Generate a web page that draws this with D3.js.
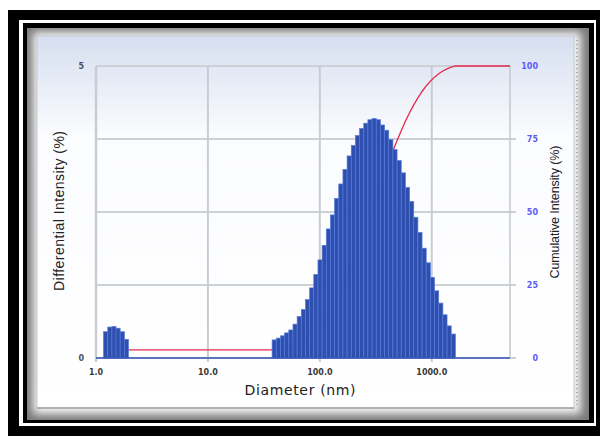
<!DOCTYPE html>
<html>
<head>
<meta charset="utf-8">
<script src="https://cdn.jsdelivr.net/npm/d3@7"></script>
<style>
    body { margin: 0; background: #fff; }
    svg { display: block; }
</style>
</head>
<body>
<div id="chart-area"></div>
<script>
// bin centres (nm), first small peak then main peak
let diameters = [
    1.22, 1.33, 1.45, 1.57, 1.72, 1.87,
    39.1, 42.6, 46.5, 50.6, 55.1, 60.1, 65.4, 71.3, 77.7, 84.6,
    92.2, 100.4, 109.4, 119.2, 129.8, 141.4, 154.1, 167.9, 182.9, 199.3,
    217.1, 236.5, 257.6, 280.6, 305.7, 333.1, 362.9, 395.4, 430.7, 469.2,
    511.2, 556.9, 606.7, 661.0, 720.1, 784.5, 854.6, 931.1, 1014, 1105,
    1204, 1312, 1429, 1557
];

// differential intensity (%)
let intensity = [
    0.45, 0.53, 0.54, 0.51, 0.45, 0.32,
    0.31, 0.34, 0.38, 0.43, 0.48, 0.58, 0.71, 0.83, 1.00, 1.20,
    1.43, 1.68, 1.93, 2.21, 2.45, 2.73, 2.98, 3.23, 3.46, 3.64,
    3.81, 3.93, 4.02, 4.08, 4.10, 4.08, 3.99, 3.90, 3.74, 3.57,
    3.38, 3.17, 2.92, 2.68, 2.41, 2.15, 1.88, 1.63, 1.38, 1.15,
    0.94, 0.74, 0.55, 0.41
];

let xTicks = [1, 10, 100, 1000];
let xMax = 5000;
let leftTicks = [0, 5];
let rightTicks = [0, 25, 50, 75, 100];

function SizeDistVis(parent) {
    let vis = this;
    vis.parent = d3.select(parent);
    vis.initVis();
}

SizeDistVis.prototype.initVis = function() {
    let vis = this;

    vis.margin = {"top": 66, "left": 96, "right": 90, "bottom": 78};
    vis.width = 600 - vis.margin.left - vis.margin.right;
    vis.height = 436 - vis.margin.top - vis.margin.bottom;

    vis.root = vis.parent.append("svg")
        .attr("width", 600)
        .attr("height", 436);

    let defs = vis.root.append("defs");
    let grad = defs.append("linearGradient")
        .attr("id", "panel-grad")
        .attr("x1", 0).attr("y1", 0).attr("x2", 0).attr("y2", 1);
    grad.append("stop").attr("offset", 0).attr("stop-color", "#d6dff0");
    grad.append("stop").attr("offset", 0.27).attr("stop-color", "#fbfcfe");
    grad.append("stop").attr("offset", 1).attr("stop-color", "#ffffff");
    defs.append("filter")
        .attr("id", "soft")
        .attr("x", -0.1).attr("y", -0.1).attr("width", 1.2).attr("height", 1.2)
        .append("feGaussianBlur")
        .attr("stdDeviation", 4);
    defs.append("clipPath")
        .attr("id", "bevel-clip")
        .append("rect")
        .attr("x", 27).attr("y", 28).attr("width", 562).attr("height", 392);

    // frame around the screenshot
    vis.root.append("rect")
        .attr("x", 8).attr("y", 10).attr("width", 600).attr("height", 440)
        .style("fill", "#000");
    vis.root.append("rect")
        .attr("x", 19).attr("y", 20).attr("width", 577).attr("height", 406)
        .style("fill", "#fff");
    vis.root.append("rect")
        .attr("x", 23).attr("y", 23).attr("width", 571).attr("height", 400)
        .style("fill", "#000");

    let bevel = vis.root.append("g").attr("clip-path", "url(#bevel-clip)");
    bevel.append("rect")
        .attr("x", 27).attr("y", 28).attr("width", 562).attr("height", 392)
        .style("fill", "#7a7a7a");
    bevel.append("rect")
        .attr("x", 33).attr("y", 32).attr("width", 548).attr("height", 382)
        .style("fill", "#f6f6f6")
        .attr("filter", "url(#soft)");

    vis.root.append("rect")
        .attr("x", 37).attr("y", 36).attr("width", 537).attr("height", 372)
        .style("fill", "url(#panel-grad)")
        .style("stroke", "#c4c8ce")
        .style("stroke-width", 1);

    // screenshot rulers on the right and bottom
    vis.root.append("line")
        .attr("x1", 577).attr("x2", 577).attr("y1", 40).attr("y2", 405)
        .style("stroke", "#8a8a8a")
        .style("stroke-width", 1.2)
        .style("stroke-dasharray", "1 3");
    vis.root.append("line")
        .attr("x1", 37).attr("x2", 574).attr("y1", 408).attr("y2", 408)
        .style("stroke", "#9da3ab")
        .style("stroke-width", 1.5);

    vis.svg = vis.root.append("g")
        .attr("transform", "translate(" + vis.margin.left + "," + vis.margin.top + ")");

    vis.x = d3.scaleLog()
        .domain([1, xMax])
        .range([0, vis.width]);
    vis.yLeft = d3.scaleLinear()
        .domain([0, 5])
        .range([vis.height, 0]);
    vis.yRight = d3.scaleLinear()
        .domain([0, 100])
        .range([vis.height, 0]);

    // grid
    vis.svg.selectAll("line.h-grid")
        .data(rightTicks)
        .enter()
        .append("line")
        .attr("class", "h-grid")
        .attr("x1", 0)
        .attr("x2", d => d === 100 ? vis.width : vis.width + 6)
        .attr("y1", d => vis.yRight(d))
        .attr("y2", d => vis.yRight(d))
        .style("stroke", "#cdd1d6")
        .style("stroke-width", 2);

    vis.svg.selectAll("line.v-grid")
        .data(xTicks)
        .enter()
        .append("line")
        .attr("class", "v-grid")
        .attr("x1", d => vis.x(d))
        .attr("x2", d => vis.x(d))
        .attr("y1", 0)
        .attr("y2", vis.height + 4)
        .style("stroke", "#c9cdd2")
        .style("stroke-width", d => d === 1 ? 2.5 : 2);

    vis.svg.append("line")
        .attr("x1", vis.x(xMax))
        .attr("x2", vis.x(xMax))
        .attr("y1", 0)
        .attr("y2", vis.height)
        .style("stroke", "#c4c8cd")
        .style("stroke-width", 1.5);

    // axis labels
    vis.svg.selectAll("text.x-tick")
        .data(xTicks)
        .enter()
        .append("text")
        .attr("class", "x-tick")
        .attr("x", d => vis.x(d))
        .attr("y", vis.height + 17)
        .attr("text-anchor", "middle")
        .style("font-family", "DejaVu Sans")
        .style("font-weight", "bold")
        .style("font-size", "8px")
        .style("fill", "#3a3a3a")
        .text(d => d3.format(".1f")(d));

    vis.svg.selectAll("text.left-tick")
        .data(leftTicks)
        .enter()
        .append("text")
        .attr("class", "left-tick")
        .attr("x", -12)
        .attr("y", d => vis.yLeft(d) + 3)
        .attr("text-anchor", "end")
        .style("font-family", "DejaVu Sans")
        .style("font-weight", "bold")
        .style("font-size", "8px")
        .style("fill", "#46505c")
        .text(d => d);

    vis.svg.selectAll("text.right-tick")
        .data(rightTicks)
        .enter()
        .append("text")
        .attr("class", "right-tick")
        .attr("x", vis.width + 28)
        .attr("y", d => vis.yRight(d) + 3)
        .attr("text-anchor", "end")
        .style("font-family", "DejaVu Sans")
        .style("font-weight", "bold")
        .style("font-size", "8px")
        .style("fill", "#5c5cf5")
        .text(d => d);

    vis.svg.append("text")
        .attr("x", vis.width / 2 - 3)
        .attr("y", vis.height + 37)
        .attr("text-anchor", "middle")
        .style("font-family", "DejaVu Sans")
        .style("font-size", "14px")
        .style("fill", "#222")
        .attr("textLength", 111)
        .text("Diameter (nm)");

    vis.svg.append("text")
        .attr("transform", "translate(-32," + (vis.height / 2 - 1) + ") rotate(-90)")
        .attr("text-anchor", "middle")
        .style("font-family", "Liberation Sans")
        .style("font-size", "14px")
        .style("fill", "#222")
        .attr("textLength", 160)
        .text("Differential Intensity (%)");

    vis.svg.append("text")
        .attr("transform", "translate(" + (vis.width + 49) + "," + (vis.height / 2) + ") rotate(-90)")
        .attr("text-anchor", "middle")
        .style("font-family", "Liberation Sans")
        .style("font-size", "12.5px")
        .style("fill", "#222")
        .attr("textLength", 133)
        .text("Cumulative Intensity (%)");

    vis.wrangleData();
};

SizeDistVis.prototype.wrangleData = function() {
    let vis = this;

    // bin edges: geometric midpoints between neighbours in the same cluster
    let n = diameters.length;
    let gap = 1.3;
    vis.bins = diameters.map(function(d, i) {
        let prev = i > 0 && d / diameters[i - 1] < gap ? diameters[i - 1] : null;
        let next = i < n - 1 && diameters[i + 1] / d < gap ? diameters[i + 1] : null;
        let lo = prev ? Math.sqrt(prev * d) : d * d / Math.sqrt(d * next);
        let hi = next ? Math.sqrt(next * d) : d * d / Math.sqrt(d * prev);
        return {"d": d, "lo": lo, "hi": hi, "v": intensity[i]};
    });

    let total = d3.sum(intensity);
    let cum = 0;
    vis.cumPoints = [];
    vis.bins.forEach(function(b) {
        vis.cumPoints.push([b.lo, cum / total * 100]);
        cum += b.v;
        vis.cumPoints.push([b.hi, cum / total * 100]);
    });
    vis.cumPoints.push([xMax, 100]);

    vis.updateVis();
};

SizeDistVis.prototype.updateVis = function() {
    let vis = this;

    let line = d3.line()
        .x(p => vis.x(p[0]))
        .y(p => vis.yRight(p[1]));

    vis.svg.append("path")
        .datum(vis.cumPoints)
        .attr("class", "cum-line")
        .attr("d", line)
        .style("fill", "none")
        .style("stroke", "#e3294b")
        .style("stroke-width", 1.3);

    vis.svg.selectAll("rect.bar")
        .data(vis.bins)
        .enter()
        .append("rect")
        .attr("class", "bar")
        .attr("x", b => vis.x(b.lo))
        .attr("width", b => vis.x(b.hi) - vis.x(b.lo))
        .attr("y", b => vis.yLeft(b.v))
        .attr("height", b => vis.height - vis.yLeft(b.v))
        .style("fill", "#2f4fae")
        .style("stroke", "#5479db")
        .style("stroke-width", 0.7);

    vis.svg.append("line")
        .attr("x1", 0)
        .attr("x2", vis.width)
        .attr("y1", vis.height)
        .attr("y2", vis.height)
        .style("stroke", "#3552b4")
        .style("stroke-width", 1.5);
};

new SizeDistVis("#chart-area");
</script>
</body>
</html>
